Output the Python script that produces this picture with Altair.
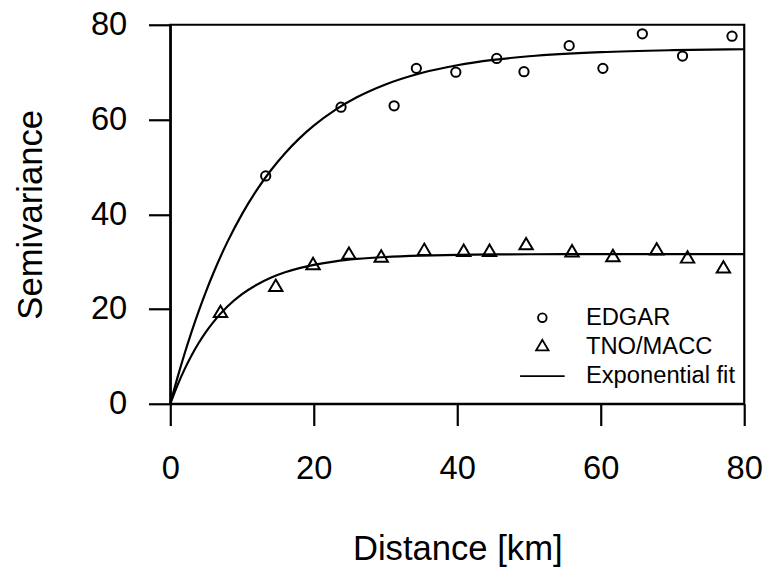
import altair as alt
import pandas as pd

# Empirical semivariogram points
edgar_x = [13.3, 23.8, 31.2, 34.3, 39.8, 45.5, 49.3, 55.6, 60.3, 65.8, 71.4, 78.3]
edgar_y = [48.1, 62.6, 62.9, 70.8, 70.0, 72.9, 70.1, 75.6, 70.8, 78.1, 73.4, 77.6]

tno_x = [7.0, 14.7, 19.9, 24.9, 29.4, 35.4, 40.9, 44.5, 49.6, 56.0, 61.7, 67.8, 72.1, 77.1]
tno_y = [19.1, 24.6, 29.2, 31.4, 30.8, 32.2, 32.0, 32.0, 33.4, 31.9, 30.9, 32.3, 30.6, 28.5]

# Fitted curves
fit_x = [0, 1, 2, 3, 4, 5, 6, 8, 10, 12, 14, 16, 18, 20, 23, 26, 30, 35, 40, 45, 50, 60, 70, 80]
fit_edgar = [0, 5.51, 10.62, 15.35, 19.73, 23.80, 27.56, 34.28, 40.04, 44.99, 49.24, 52.89,
             56.02, 58.70, 62.04, 64.69, 67.40, 69.82, 71.46, 72.58, 73.35, 74.23, 74.64, 74.83]
fit_tno = [0, 3.90, 7.31, 10.30, 12.93, 15.23, 17.25, 20.57, 23.12, 25.08, 26.59, 27.75,
           28.64, 29.32, 30.07, 30.57, 30.99, 31.28, 31.44, 31.52, 31.56, 31.59, 31.60, 31.60]

legend_labels = ["EDGAR", "TNO/MACC", "Exponential fit"]
ticks = [0, 20, 40, 60, 80]

pts = pd.DataFrame({
    "x": edgar_x + tno_x,
    "y": edgar_y + tno_y,
    "series": ["EDGAR"] * len(edgar_x) + ["TNO/MACC"] * len(tno_x),
})
fits = pd.DataFrame({
    "x": fit_x + fit_x,
    "y": fit_edgar + fit_tno,
    "curve": ["EDGAR"] * len(fit_x) + ["TNO/MACC"] * len(fit_x),
})

FONT = "Liberation Sans"

# symbol shapes (unit paths); the leading moves give all symbols equal width bounds
SPAN = "M-6,0M6,0"
shape_range = [
    SPAN + "M1,0A1,1,0,1,1,-1,0A1,1,0,1,1,1,0Z",
    SPAN + "M0,-1.64L1.44,0.82L-1.44,0.82Z",
    "M-5.2,0L5.2,0M-6,0M6,0",
]

xscale = alt.Scale(domain=[0, 80], nice=False, zero=False)
yscale = alt.Scale(domain=[0, 80], nice=False, zero=False)

xaxis = alt.Axis(values=ticks, title="Distance [km]", titleBaseline="alphabetic",
                 titleY=157, titleX=290, labelPadding=54, labelBaseline="alphabetic",
                 labelFlush=False, labelOverlap=False)
yaxis = alt.Axis(values=ticks, title="Semivariance", titleBaseline="alphabetic",
                 titleX=-130, titleY=191.5, titleAngle=270, labelPadding=22,
                 labelFlush=False, labelOverlap=False)

leg = alt.Legend(title=None, orient="none", legendX=364, legendY=284,
                 labelFont=FONT, labelFontSize=24, labelColor="black",
                 symbolStrokeColor="black", symbolFillColor="transparent",
                 symbolStrokeWidth=1.9, symbolSize=75, labelOffset=32, rowPadding=5.5,
                 padding=0)

lines = alt.Chart(fits).mark_line(color="black", strokeWidth=2.2, interpolate="monotone").encode(
    x=alt.X("x:Q", scale=xscale, axis=xaxis),
    y=alt.Y("y:Q", scale=yscale, axis=yaxis),
    detail="curve:N",
)

points = alt.Chart(pts).mark_point(filled=False, color="black", strokeWidth=2,
                                   opacity=1, size=88).encode(
    x=alt.X("x:Q", scale=xscale),
    y=alt.Y("y:Q", scale=yscale),
    shape=alt.Shape("series:N", scale=alt.Scale(domain=legend_labels, range=shape_range),
                    legend=leg),
)

chart = alt.layer(lines, points).properties(
    width=580, height=383,
    autosize=alt.AutoSizeParams(type="none"),
    padding={"left": 164, "top": 14, "right": 21, "bottom": 163},
).configure_view(
    stroke="black", strokeWidth=2.2
).configure_axis(
    grid=False, domainColor="black", domainWidth=2.2, tickColor="black", tickWidth=2.2,
    tickSize=22, labelFont=FONT, labelFontSize=33, labelColor="black",
    titleFont=FONT, titleFontSize=35, titleColor="black", titleFontWeight="normal",
)

chart.save("out.html", embed_options={"renderer": "svg", "actions": False})
